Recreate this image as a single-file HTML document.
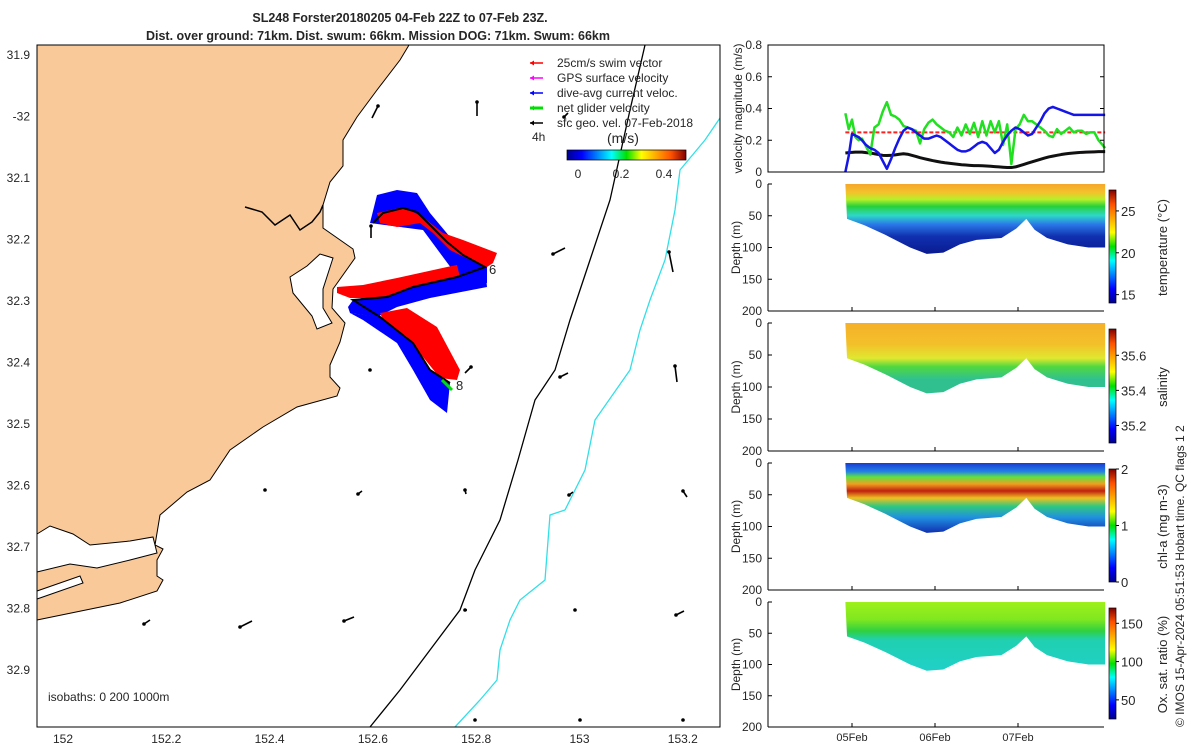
<!DOCTYPE html>
<html><head><meta charset="utf-8">
<style>
body{margin:0;background:#fff;}
svg{display:block;font-family:"Liberation Sans","DejaVu Sans",sans-serif;}
text{font-size:12px;fill:#262626;}
</style></head>
<body>
<svg id="fig" width="1200" height="750" viewBox="0 0 1200 750" xmlns="http://www.w3.org/2000/svg">
<defs>
<linearGradient id="jet" x1="0" y1="1" x2="0" y2="0">
<stop offset="0" stop-color="#00008f"/><stop offset="0.125" stop-color="#0000ff"/><stop offset="0.375" stop-color="#00ffff"/><stop offset="0.5" stop-color="#00e000"/><stop offset="0.625" stop-color="#ffff00"/><stop offset="0.875" stop-color="#ff5000"/><stop offset="1" stop-color="#800000"/></linearGradient>
<linearGradient id="jeth" x1="0" y1="0" x2="1" y2="0">
<stop offset="0" stop-color="#00008f"/><stop offset="0.125" stop-color="#0000ff"/><stop offset="0.375" stop-color="#00ffff"/><stop offset="0.5" stop-color="#00e000"/><stop offset="0.625" stop-color="#ffff00"/><stop offset="0.875" stop-color="#ff5000"/><stop offset="1" stop-color="#800000"/></linearGradient>
<linearGradient id="gTemp" x1="0" y1="0" x2="0" y2="1">
<stop offset="0" stop-color="#f6a72a"/><stop offset="0.12" stop-color="#f3c22a"/><stop offset="0.22" stop-color="#b8f02a"/><stop offset="0.32" stop-color="#27d03a"/><stop offset="0.45" stop-color="#2ed8c8"/><stop offset="0.58" stop-color="#2a78e8"/><stop offset="0.75" stop-color="#1030b0"/><stop offset="1" stop-color="#0a1a90"/></linearGradient>
<linearGradient id="gSal" x1="0" y1="0" x2="0" y2="1">
<stop offset="0" stop-color="#f5b02a"/><stop offset="0.3" stop-color="#f3c02a"/><stop offset="0.5" stop-color="#e0e830"/><stop offset="0.62" stop-color="#50d840"/><stop offset="0.8" stop-color="#30c090"/><stop offset="1" stop-color="#30c090"/></linearGradient>
<linearGradient id="gChl" x1="0" y1="0" x2="0" y2="1">
<stop offset="0" stop-color="#1a3ad0"/><stop offset="0.12" stop-color="#2080e8"/><stop offset="0.2" stop-color="#60e040"/><stop offset="0.3" stop-color="#f0a020"/><stop offset="0.4" stop-color="#c02010"/><stop offset="0.5" stop-color="#f0c020"/><stop offset="0.62" stop-color="#30c880"/><stop offset="0.78" stop-color="#2090e0"/><stop offset="1" stop-color="#1030b0"/></linearGradient>
<linearGradient id="gOx" x1="0" y1="0" x2="0" y2="1">
<stop offset="0" stop-color="#9ef01a"/><stop offset="0.25" stop-color="#80e820"/><stop offset="0.42" stop-color="#30d040"/><stop offset="0.55" stop-color="#20d0b0"/><stop offset="1" stop-color="#20d0c8"/></linearGradient>
</defs>
</svg>
<script>
// ---- data ----
const mapXTicks=[152,152.2,152.4,152.6,152.8,153,153.2];
const mapYTicks=[31.9,32,32.1,32.2,32.3,32.4,32.5,32.6,32.7,32.8,32.9];
const velDays=[-0.08,-0.04,0.0,0.04,0.08,0.12,0.17,0.22,0.27,0.32,0.37,0.42,0.47,0.52,0.57,0.62,0.67,0.72,0.77,0.82,0.87,0.92,0.97,1.02,1.07,1.12,1.17,1.22,1.27,1.32,1.37,1.42,1.47,1.52,1.57,1.62,1.67,1.72,1.77,1.82,1.87,1.92,1.97,2.02,2.07,2.12,2.17,2.22,2.27,2.32,2.37,2.42,2.47,2.52,2.57,2.62,2.67,2.72,2.77,2.82,2.87,2.92,2.97,3.02,3.05];
const netGlider=[0.37,0.27,0.33,0.22,0.20,0.21,0.16,0.11,0.28,0.30,0.38,0.44,0.36,0.35,0.33,0.29,0.28,0.27,0.26,0.18,0.27,0.31,0.33,0.30,0.28,0.26,0.25,0.22,0.28,0.23,0.30,0.24,0.31,0.22,0.32,0.23,0.32,0.25,0.32,0.17,0.30,0.05,0.27,0.30,0.36,0.32,0.32,0.30,0.28,0.26,0.23,0.22,0.27,0.24,0.26,0.28,0.25,0.26,0.26,0.24,0.25,0.25,0.20,0.17,0.15];
const diveAvg=[0.0,0.10,0.24,0.23,0.22,0.20,0.17,0.15,0.14,0.12,0.07,0.02,0.08,0.15,0.21,0.26,0.28,0.27,0.25,0.23,0.21,0.21,0.22,0.23,0.22,0.20,0.18,0.16,0.14,0.13,0.13,0.14,0.16,0.18,0.19,0.18,0.15,0.12,0.14,0.19,0.23,0.26,0.28,0.27,0.25,0.23,0.24,0.28,0.32,0.37,0.40,0.41,0.40,0.39,0.38,0.37,0.36,0.36,0.36,0.36,0.36,0.36,0.36,0.36,0.36];
const sfcGeo=[0.12,0.122,0.124,0.125,0.125,0.125,0.122,0.12,0.115,0.11,0.105,0.104,0.105,0.108,0.112,0.115,0.112,0.105,0.098,0.09,0.084,0.078,0.072,0.067,0.062,0.058,0.055,0.052,0.049,0.046,0.044,0.042,0.04,0.04,0.039,0.038,0.036,0.034,0.032,0.03,0.028,0.028,0.032,0.04,0.048,0.056,0.064,0.072,0.08,0.088,0.095,0.1,0.105,0.11,0.114,0.117,0.12,0.122,0.124,0.125,0.126,0.127,0.128,0.128,0.128];
const swimVec=velDays.map(()=>0.25);
const velTicks=[0,0.2,0.4,0.6,0.8];
const depthTicks=[0,50,100,150,200];
const dateLabels=["05Feb","06Feb","07Feb"];
const profDays=[-0.08,-0.06,0.15,0.4,0.7,0.9,1.1,1.3,1.5,1.8,1.98,2.1,2.2,2.35,2.6,2.85,3.05];
const profDepth=[0,55,65,80,100,110,108,95,88,85,70,55,72,85,95,100,100];
const tempTicks=[15,20,25]; const salTicks=[35.2,35.4,35.6]; const chlTicks=[0,1,2]; const oxTicks=[50,100,150];

const S=document.getElementById('fig');const NS='http://www.w3.org/2000/svg';
function el(t,a,p){const e=document.createElementNS(NS,t);for(const k in a)e.setAttribute(k,a[k]);(p||S).appendChild(e);return e;}
function tx(x,y,s,a,p){const e=el('text',Object.assign({x:x,y:y},a||{}),p);e.textContent=s;return e;}

// ---- map ----
const mx=v=>63+(v-152)/0.2*103.3, my=v=>55+(v-31.9)/0.1*61.5;
const map=el('g',{});
let land=el('path',{d:'M37,45 L409,45 L400,60 L377,90 L357,117 L343,140 L343,166 L330,182 L323,205 L323,228 L353,249 L355,258 L333,289 L332,308 L345,323 L340,342 L330,365 L330,377 L340,388 L337,396 L297,407 L263,427 L230,450 L210,480 L187,492 L160,515 L155,545 L163,549 L157,560 L157,576 L163,580 L157,591 L120,603 L37,620 Z',fill:'#f9c99a',stroke:'#000','stroke-width':1},map);

let lake=el('path',{d:'M290,277 L307,266 L320,254 L333,258 L323,289 L323,308 L332,323 L317,329 L312,316 L293,293 Z',fill:'#fff',stroke:'#000','stroke-width':1},map);

el('polyline',{points:'245,207 262,212 275,225 290,215 300,230 312,222 320,212 323,205',fill:'none',stroke:'#000','stroke-width':1.5},map);
el('path',{d:'M37,534 L50,526 L73,534 L90,545 L130,541 L153,537 L157,553 L130,560 L97,568 L70,564 L37,572 Z',fill:'#fff',stroke:'#000','stroke-width':1},map);
el('path',{d:'M37,591 L80,576 L83,583 L37,599 Z',fill:'#fff',stroke:'#000','stroke-width':1},map);
let iso2=el('polyline',{points:'645,45 630,110 610,200 590,260 570,320 555,370 535,400 518,460 500,520 475,570 460,610 430,650 400,690 370,727',fill:'none',stroke:'#000','stroke-width':1.3},map);

let iso1=el('polyline',{points:'720,118 705,140 680,170 675,210 665,260 650,300 640,330 630,370 595,420 585,470 565,510 550,515 545,580 520,600 510,620 500,650 497,680 480,700 455,727',fill:'none',stroke:'#30e0e8','stroke-width':1.3},map);

// glider track
el('path',{d:'M370,223 L377,195 L397,190 L417,193 L430,213 L450,237 L473,253 L487,267 L487,283 L460,280 L440,253 L423,230 Z',fill:'#0000ff'},map);
el('path',{d:'M353,300 L413,287 L457,277 L485,267 L487,287 L430,298 L397,307 L377,317 L350,313 L348,307 Z',fill:'#0000ff'},map);
el('path',{d:'M350,313 L380,317 L413,343 L430,370 L450,383 L447,413 L430,400 L413,370 L397,343 L363,320 Z',fill:'#0000ff'},map);
el('path',{d:'M377,213 L403,207 L423,217 L443,233 L463,240 L497,253 L493,263 L487,267 L470,260 L450,250 L433,233 L420,223 L397,227 L380,223 Z',fill:'#ff0000'},map);
el('path',{d:'M337,287 L363,285 L397,278 L447,267 L457,265 L460,277 L413,287 L380,298 L350,298 L337,293 Z',fill:'#ff0000'},map);
el('path',{d:'M380,313 L407,308 L437,327 L460,370 L457,380 L440,378 L423,357 L407,337 L383,320 Z',fill:'#ff0000'},map);
let trk=el('polyline',{points:'373,223 383,213 403,208 417,212 430,225 447,242 463,255 485,267 457,277 413,287 387,297 353,300 380,317 413,343 430,370 450,383',fill:'none',stroke:'#000','stroke-width':2},map);

el('line',{x1:442,y1:380,x2:452,y2:390,stroke:'#00e000','stroke-width':3},map);
tx(489,274,'6',{style:'font-size:13px'},map);tx(456,390,'8',{style:'font-size:13px'},map);
// current arrows grid
const arrowPts=[[372,118,6,-12],[477,116,0,-14],[568,113,-4,4],[371,238,0,-12],[565,248,-12,6],[673,272,-4,-20],[370,370,0,0],[465,373,6,-6],[568,373,-8,4],[677,382,-2,-16],[265,490,0,0],[362,491,-4,3],[466,494,-1,-4],[573,492,-4,3],[687,497,-4,-6],[150,620,-6,4],[252,621,-12,6],[354,617,-10,4],[467,610,-2,0],[575,610,0,0],[684,611,-8,4],[475,720,0,0],[580,720,0,0],[683,720,0,0]];
arrowPts.forEach(a=>{const [x,y,dx,dy]=a;if(dx||dy){let l=el('line',{x1:x,y1:y,x2:x+dx,y2:y+dy,stroke:'#000','stroke-width':1.6},map);}el('circle',{cx:x+dx,cy:y+dy,r:1.8,fill:'#000'},map);});
el('rect',{x:37,y:45,width:683,height:682,fill:'none',stroke:'#000','stroke-width':1},map);
mapXTicks.forEach(v=>{let t=tx(mx(v),743,String(v),{'text-anchor':'middle'},map);});
mapYTicks.forEach(v=>{let t=tx(30,my(v)+4,v===32?'-32':String(v),{'text-anchor':'end'},map);});
tx(48,701,'isobaths: 0   200  1000m',{'xml:space':'preserve'},map);
// title
let t1=tx(400,22,'SL248 Forster20180205 04-Feb 22Z to 07-Feb 23Z.',{'text-anchor':'middle',style:'font-weight:bold;font-size:12.5px'});
let t2=tx(378,40,'Dist. over ground: 71km. Dist. swum: 66km. Mission DOG: 71km. Swum: 66km',{'text-anchor':'middle',style:'font-weight:bold;font-size:12.5px'});
// legend
const lg=el('g',{},map);
[['25cm/s swim vector','#ff0000'],['GPS surface velocity','#ff00ff'],['dive-avg current veloc.','#0000ff'],['net glider velocity','#00e000'],['sfc geo. vel. 07-Feb-2018','#000']].forEach((e,i)=>{const y=63+i*15;el('line',{x1:530,y1:y,x2:543,y2:y,stroke:e[1],'stroke-width':i==3?3:1.5},lg);el('path',{d:`M530,${y} l4,-2.5 l0,5 Z`,fill:e[1]},lg);tx(557,y+4,e[0],{},lg);});
tx(532,141,'4h',{},map);tx(607,143,'(m/s)',{style:'font-size:14px'},map);
let mcb=el('rect',{x:567,y:150,width:119,height:10,fill:'url(#jeth)',stroke:'#000','stroke-width':0.7},map);
tx(578,178,'0',{'text-anchor':'middle'},map);tx(621,178,'0.2',{'text-anchor':'middle'},map);tx(664,178,'0.4',{'text-anchor':'middle'},map);

// ---- right panels ----
const L=768,R=1104;const dx=d=>852+d*83;
const VT=45,VB=172;const vy=v=>VB-(v/0.8)*(VB-VT);
const vg=el('g',{});
function series(arr,col,w,name,dash){let p=el('polyline',{points:velDays.map((d,i)=>dx(d)+','+vy(arr[i])).join(' '),fill:'none',stroke:col,'stroke-width':w,'stroke-linejoin':'round'},vg);if(dash)p.setAttribute('stroke-dasharray',dash);}
series(swimVec,'#ff2020',2,'swim-vector-series','4,2');
series(sfcGeo,'#111',3,'sfc-geo-series');
series(netGlider,'#20e020',2.5,'net-glider-series');
series(diveAvg,'#1515e8',2.5,'dive-avg-series');
el('rect',{x:L,y:VT,width:R-L,height:VB-VT,fill:'none',stroke:'#000'},vg);
velTicks.forEach(v=>{el('line',{x1:L,y1:vy(v),x2:L+4,y2:vy(v),stroke:'#000'},vg);el('line',{x1:R,y1:vy(v),x2:R-4,y2:vy(v),stroke:'#000'},vg);tx(L-6,vy(v)+4,String(v),{'text-anchor':'end'},vg);});
tx(0,0,'velocity magnitude (m/s)',{transform:`translate(742,${(VT+VB)/2}) rotate(-90)`,'text-anchor':'middle'},vg);
const panels=[[184,311,'url(#gTemp)','temperature (°C)',tempTicks,14,27.5,'temperature-panel'],[323,451,'url(#gSal)','salinity',salTicks,35.1,35.75,'salinity-panel'],[463,590,'url(#gChl)','chl-a (mg m-3)',chlTicks,0,2,'chlorophyll-panel'],[602,727,'url(#gOx)','Ox. sat. ratio (%)',oxTicks,25,170,'oxygen-panel']];
panels.forEach(p=>{const [T,B,fill,lab,ct,cmin,cmax,name]=p;const g=el('g',{});
 const dy=m=>T+m/200*(B-T);
 let pts=[dx(profDays[0])+','+dy(0),dx(profDays[profDays.length-1])+','+dy(0)];
 for(let i=profDays.length-1;i>=0;i--)pts.push(dx(profDays[i])+','+dy(profDepth[i]));
 let sec=el('polygon',{points:pts.join(' '),fill:fill},g);
 el('line',{x1:L,y1:T,x2:L,y2:B,stroke:'#000'},g);el('line',{x1:L,y1:B,x2:R,y2:B,stroke:'#000'},g);
 depthTicks.forEach(m=>{el('line',{x1:L,y1:dy(m),x2:L+4,y2:dy(m),stroke:'#000'},g);tx(L-6,dy(m)+4,String(m),{'text-anchor':'end'},g);});
 dateLabels.forEach((s,i)=>el('line',{x1:dx(i),y1:B,x2:dx(i),y2:B-4,stroke:'#000'},g));
 tx(0,0,'Depth (m)',{transform:`translate(740,${(T+B)/2}) rotate(-90)`,'text-anchor':'middle'},g);
 const cT=T+6,cB=B-8;let cb=el('rect',{x:1109,y:cT,width:7,height:cB-cT,fill:'url(#jet)',stroke:'#000','stroke-width':0.7},g);
 ct.forEach(v=>{const y=cB-(v-cmin)/(cmax-cmin)*(cB-cT);el('line',{x1:1116,y1:y,x2:1119,y2:y,stroke:'#000'},g);tx(1121,y+5,String(v),{style:'font-size:13px'},g);});
 tx(0,0,lab,{transform:`translate(1167,${(T+B)/2}) rotate(-90)`,'text-anchor':'middle',style:'font-size:13px'},g);
});
dateLabels.forEach((s,i)=>{let t=tx(dx(i),741,s,{'text-anchor':'middle',style:'font-size:11px'});});
let cr=tx(0,0,'© IMOS 15-Apr-2024 05:51:53 Hobart time. QC flags 1  2',{transform:'translate(1184,727) rotate(-90)',style:'font-size:12px','xml:space':'preserve'});
</script>
</body></html>
